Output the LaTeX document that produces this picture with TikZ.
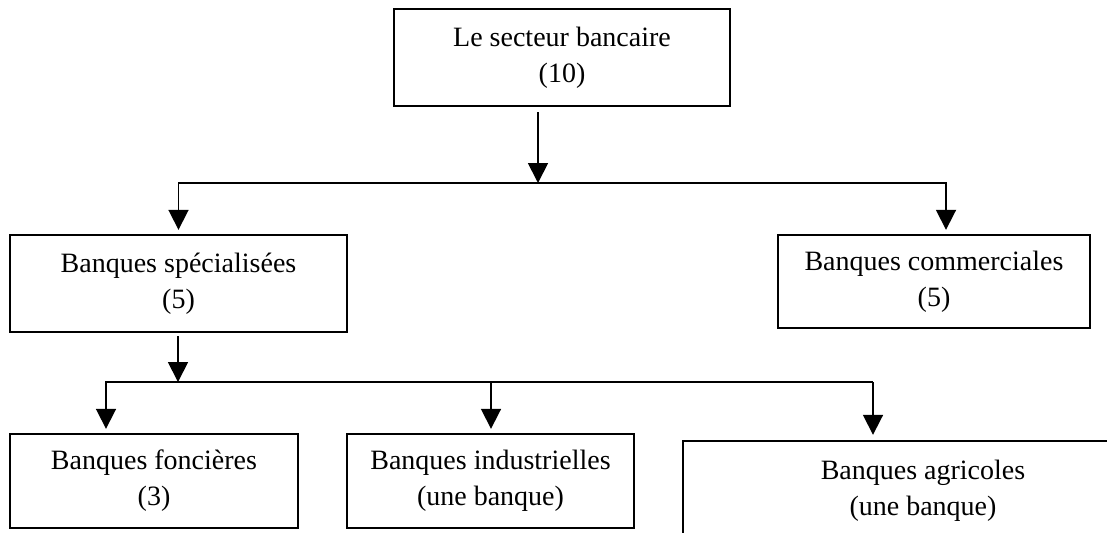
\documentclass[tikz,border=0pt]{standalone}
\usepackage{fontspec}
\setmainfont{Liberation Serif}
\usetikzlibrary{arrows.meta,positioning}
\tikzstyle{bank} = [rectangle, draw=black, line width=1.2pt, align=center, inner sep=0pt, font=\fontsize{14}{18}\selectfont]
\tikzstyle{arrow} = [line width=0.9pt, -{Triangle[length=10pt,width=10pt]}]
\tikzstyle{bus} = [line width=0.9pt]

\begin{document}
\begin{tikzpicture}[x=0.5pt,y=-0.5pt]
\useasboundingbox (0,0) rectangle (1107,532);
\clip (0,0) rectangle (1107,532);
% boxes
\node[bank, minimum width=168pt, minimum height=48.5pt] (secteur) at (562,57.5) {Le secteur bancaire\\(10)};
\node[bank, minimum width=168.5pt, minimum height=48.5pt] (specialisees) at (178.5,283.5) {Banques spécialisées\\(5)};
\node[bank, minimum width=156pt, minimum height=46.5pt] (commerciales) at (934,281.5) {Banques commerciales\\(5)};
\node[bank, minimum width=144pt, minimum height=47pt] (foncieres) at (154,481) {Banques foncières\\(3)};
\node[bank, minimum width=143.5pt, minimum height=47pt] (industrielles) at (490.5,481) {Banques industrielles\\(une banque)};
\node[bank, minimum width=240pt, minimum height=50pt] (agricoles) at (923,491) {Banques agricoles\\(une banque)};
% junctions
\coordinate (j1) at (538,183);
\coordinate (j1r) at (946,183);
\coordinate (j2) at (178,382);
\coordinate (j2l) at (106,382);
\coordinate (j2m) at (491,382);
\coordinate (j2r) at (873,382);
% first level
\draw[arrow, shorten <=2.5pt] (secteur.south -| j1) -- (j1);
\draw[arrow, shorten >=2pt] (j1) -| (specialisees.north);
\draw[arrow, shorten >=2pt] (j1) -| (j1r |- commerciales.north);
% second level
\draw[arrow, shorten <=1.5pt] (specialisees.south -| j2) -- (j2);
\draw[bus] (j2) -- (j2r);
\draw[arrow, shorten >=2pt] (j2) -| (j2l |- foncieres.north);
\draw[arrow, shorten >=2pt] (j2m) -- (j2m |- industrielles.north);
\draw[arrow, shorten >=2.5pt] (j2r) -- (j2r |- agricoles.north);
\end{tikzpicture}
\end{document}
